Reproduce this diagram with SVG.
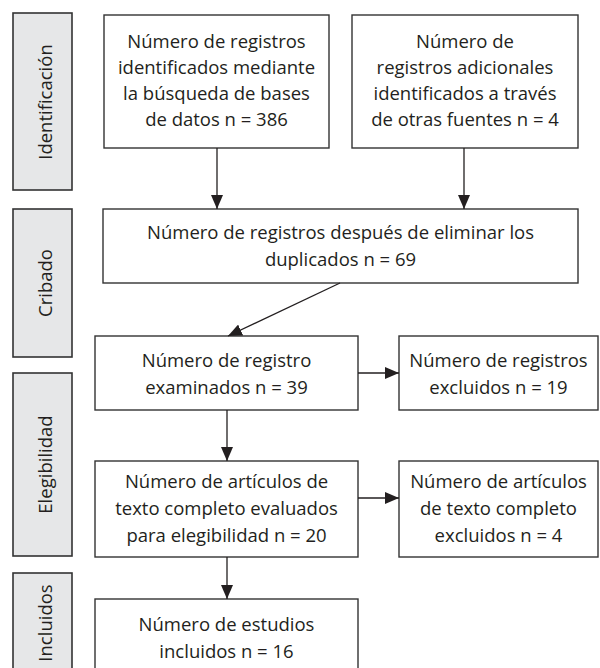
<svg xmlns="http://www.w3.org/2000/svg" width="600" height="668" viewBox="0 0 600 668">
<style>
.lab{fill:#e6e7e8;stroke:#333;stroke-width:1.6}
.box{fill:#fff;stroke:#333;stroke-width:1.4}
text{font-family:"Open Sans","Noto Sans",sans-serif;font-size:18.5px;fill:#231f20;text-anchor:middle}
.conn{stroke:#231f20;stroke-width:1.3;fill:none;marker-end:url(#ah)}
</style>
<defs>
<marker id="ah" markerUnits="userSpaceOnUse" markerWidth="16" markerHeight="12" refX="14" refY="6" orient="auto">
<path d="M0,0 L14,6 L0,12 Z" fill="#231f20"/>
</marker>
</defs>
<rect width="600" height="668" fill="#fff"/>
<g id="stage-identificacion"><rect class="lab" x="13" y="13" width="59" height="177"/><text transform="translate(51.5,102) rotate(-90)">Identificación</text></g>
<g id="stage-cribado"><rect class="lab" x="13" y="209" width="59" height="148"/><text transform="translate(51.5,283) rotate(-90)">Cribado</text></g>
<g id="stage-elegibilidad"><rect class="lab" x="13" y="373" width="59" height="183"/><text transform="translate(51.5,464.5) rotate(-90)">Elegibilidad</text></g>
<g id="stage-incluidos"><rect class="lab" x="13" y="573" width="59" height="110"/><text transform="translate(51.5,623) rotate(-90)">Incluidos</text></g>

<g id="n-bases"><rect class="box" x="104" y="15" width="225" height="133"/>
<text x="216.5" y="48">Número de registros</text><text x="216.5" y="74">identificados mediante</text><text x="216.5" y="100">la búsqueda de bases</text><text x="216.5" y="126">de datos n = 386</text></g>
<g id="n-otras"><rect class="box" x="352" y="15" width="226" height="133"/>
<text x="465" y="48">Número de</text><text x="465" y="74">registros adicionales</text><text x="465" y="100">identificados a través</text><text x="465" y="126">de otras fuentes n = 4</text></g>
<g id="n-duplicados"><rect class="box" x="103" y="209" width="475" height="74"/>
<text x="340.5" y="239">Número de registros después de eliminar los</text><text x="340.5" y="266">duplicados n = 69</text></g>
<g id="n-examinados"><rect class="box" x="95" y="336" width="263" height="74"/>
<text x="226.5" y="366.5">Número de registro</text><text x="226.5" y="393.5">examinados n = 39</text></g>
<g id="n-excluidos"><rect class="box" x="399" y="336" width="199" height="74"/>
<text x="498.5" y="366.5">Número de registros</text><text x="498.5" y="393.5">excluidos n = 19</text></g>
<g id="n-evaluados"><rect class="box" x="95" y="461" width="263" height="96"/>
<text x="226.5" y="488">Número de artículos de</text><text x="226.5" y="515">texto completo evaluados</text><text x="226.5" y="542">para elegibilidad n = 20</text></g>
<g id="n-excluidos-texto"><rect class="box" x="399" y="461" width="199" height="96"/>
<text x="498.5" y="488">Número de artículos</text><text x="498.5" y="515">de texto completo</text><text x="498.5" y="542">excluidos n = 4</text></g>
<g id="n-incluidos"><rect class="box" x="95" y="599" width="263" height="90"/>
<text x="226.5" y="631">Número de estudios</text><text x="226.5" y="658">incluidos n = 16</text></g>

<g id="connectors">
<line class="conn" x1="217" y1="148" x2="217" y2="209"/>
<line class="conn" x1="464" y1="148" x2="464" y2="209"/>
<line class="conn" x1="340" y1="283" x2="228" y2="336"/>
<line class="conn" x1="358" y1="373" x2="399" y2="373"/>
<line class="conn" x1="227" y1="410" x2="227" y2="461"/>
<line class="conn" x1="358" y1="498" x2="399" y2="498"/>
<line class="conn" x1="227" y1="557" x2="227" y2="599"/>
</g>
</svg>
